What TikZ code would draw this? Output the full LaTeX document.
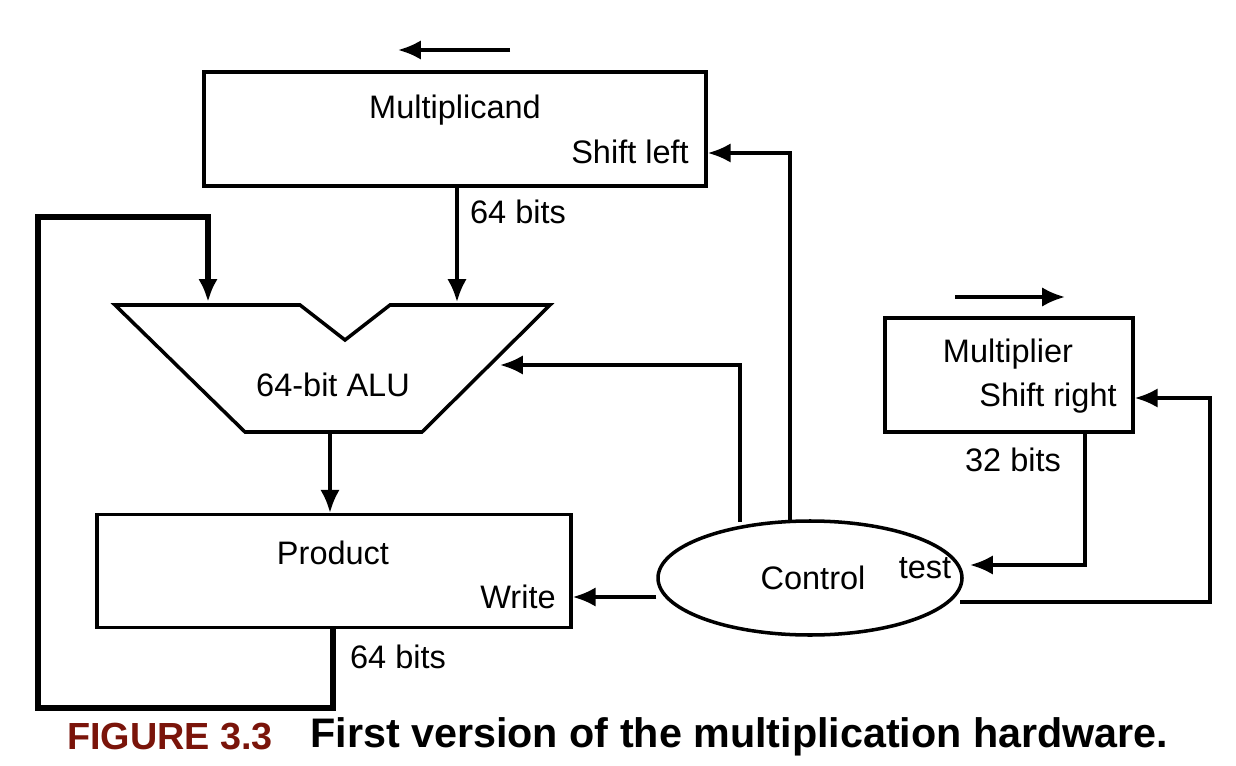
\documentclass[tikz,border=0pt]{standalone}
\usepackage{fontspec}
\setmainfont{Liberation Sans}
\usetikzlibrary{positioning, shapes.geometric, arrows.meta}
\definecolor{figred}{RGB}{122,20,10}
\tikzset{
  blk/.style={draw, line width=2pt},
  lbl/.style={font=\fontsize{18.5}{20}\selectfont, inner sep=0pt},
  wire/.style={line width=2pt, -{Latex[length=13pt,width=11pt]}}
}
\begin{document}
\begin{tikzpicture}[x=0.02cm, y=-0.02cm]
        \useasboundingbox (0,0) rectangle (1236,766);
        % Multiplicand
        \node[blk, minimum width=502*0.02cm, minimum height=114*0.02cm] (mcand) at (455,129) {};
        \node[lbl] (mcandtxt) at (455,110) {Multiplicand};
        \node[lbl] (shl) at (630,152) {Shift left};
        \coordinate (la1) at (510,50); \coordinate (la2) at (398,50);
        \draw[wire] (la1) -- (la2);
        \node[lbl] (b64a) at (518,212) {64 bits};

        % ALU
        \draw[blk, line join=miter] (115,305) -- (300,305) -- (345,340) -- (390,305) -- (550,305) -- (422,432) -- (245,432) -- cycle;
        \node[lbl] (alu) at (333,385) {64-bit ALU};
        \coordinate (aluin1) at (208,302); \coordinate (aluin2) at (457,302);
        \coordinate (aluout) at (330,432); \coordinate (alur) at (500,365);

        % Product
        \node[blk, minimum width=474*0.02cm, minimum height=113*0.02cm] (prod) at (334,571) {};
        \node[lbl] (prodtxt) at (333,553) {Product};
        \node[lbl] (wr) at (518,597) {Write};
        \node[lbl] (b64b) at (398,657) {64 bits};

        % Multiplier
        \node[blk, minimum width=248*0.02cm, minimum height=114*0.02cm] (mplier) at (1009,375) {};
        \node[lbl] (mpliertxt) at (1008,354) {Multiplier};
        \node[lbl] (shr) at (1048,398) {Shift right};
        \coordinate (ra1) at (955,297); \coordinate (ra2) at (1065,297);
        \draw[wire] (ra1) -- (ra2);
        \node[lbl] (b32) at (1013,460) {32 bits};

        % Control
        \node[blk, ellipse, minimum width=304*0.02cm, minimum height=114*0.02cm] (ctrl) at (810,578) {};
        \node[lbl] (ctrltxt) at (813,578) {Control};
        \node[lbl] (tst) at (925,568) {test};

        % Connectors
        \draw[wire] (mcand.south -| aluin2) -- (aluin2);
        \draw[wire] (aluout) -- (prod.north -| aluout);
        \draw[wire, line width=3pt] (prod.south -| 333,0) -- (333,708) -- (38,708) -- (38,217) -- (208,217) -- (aluin1);
        \draw[wire] (ctrl.west |- 0,597) -- (prod.east |- 0,597);
        \draw[wire] (740,522) -- (740,365) -- (alur);
        \draw[wire] (790,521) -- (790,153) -- (mcand.east |- 0,153);
        \draw[wire] (mplier.south -| 1085,0) -- (1085,565) -- (970,565);
        \draw[wire] (960,602) -- (1210,602) -- (1210,398) -- (mplier.east |- 0,398);

        % Caption
        \node[font=\bfseries\fontsize{21.5}{23}\selectfont, text=figred, inner sep=0pt] (fig) at (170,737) {FIGURE 3.3};
        \node[font=\bfseries\fontsize{23.5}{25}\selectfont, inner sep=0pt, anchor=west] (cap) at (310,737) {First version of the multiplication hardware.};
\end{tikzpicture}
\end{document}
